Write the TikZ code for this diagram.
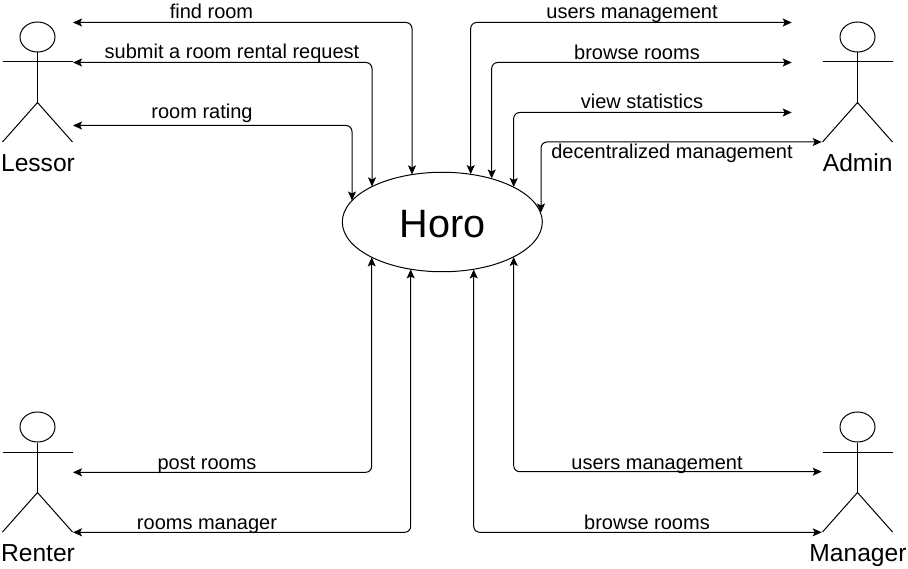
\documentclass[tikz,border=0pt]{standalone}
\usepackage{fontspec}
\setmainfont{Liberation Sans}
\usetikzlibrary{arrows.meta,shapes.geometric}
\tikzset{
  line/.style={line width=1pt,black},
  link/.style={line width=1pt,black,rounded corners=6pt,{Stealth[length=9pt,width=8pt,inset=2pt]}-{Stealth[length=9pt,width=8pt,inset=2pt]}},
  lbl/.style={anchor=base,inner sep=0pt,font=\fontsize{20}{22}\selectfont},
  actorlbl/.style={anchor=base,inner sep=0pt,font=\fontsize{24.6}{26}\selectfont},
  head/.style={ellipse,draw,line width=1pt,minimum width=35pt,minimum height=30pt,inner sep=0pt},
  usecase/.style={ellipse,draw,line width=1pt,minimum width=200pt,minimum height=99.5pt,inner sep=0pt}
}
\newcommand{\stickman}[3]{%
  \node[head] (#3) at (#1,#2+15) {};
  \draw[line] (#3.south) -- ++(0,50) coordinate (#3hip);
  \draw[line] (#1-35,#2+40) -- (#1+35,#2+40);
  \draw[line] (#1-35,#2+120) -- (#3hip) -- (#1+35,#2+120);
}
\begin{document}
\begin{tikzpicture}[x=1pt,y=-1pt]
\useasboundingbox (0,0) rectangle (908,569);
\fill[white] (0,0) rectangle (908,569);

\node[usecase] (horo) at (442.3,222) {};
\node[lbl,font=\fontsize{39.6}{44}\selectfont] (horolbl) at (442.5,238) {Horo};

\stickman{37.5}{22}{lessor}
\stickman{857.5}{22}{admin}
\stickman{37.5}{412}{renter}
\stickman{857.5}{412}{manager}

\node[actorlbl] (lessorlbl) at (38,171.7) {Lessor};
\node[actorlbl] (adminlbl) at (857.7,171.7) {Admin};
\node[actorlbl] (renterlbl) at (38,561.7) {Renter};
\node[actorlbl] (managerlbl) at (858,561.7) {Manager};

% free ends at the actors
\coordinate (a1) at (73,22.5);
\coordinate (a2) at (73,62.5);
\coordinate (a3) at (73,125.5);
\coordinate (b1) at (791.7,22.5);
\coordinate (b2) at (791.7,62.5);
\coordinate (b3) at (791.7,112.5);
\coordinate (b4) at (821.7,142);
\coordinate (c1) at (73,472.3);
\coordinate (c2) at (73,532.3);
\coordinate (d1) at (821.7,471.7);
\coordinate (d2) at (821.7,532.3);
% ends on the ellipse
\coordinate (h1) at (412,174.4);
\coordinate (h2) at (372,186.4);
\coordinate (h3) at (352,200.5);
\coordinate (h4) at (470.7,174.1);
\coordinate (h5) at (491.7,178.5);
\coordinate (h6) at (513.7,187);
\coordinate (h7) at (541,212.5);
\coordinate (h8) at (371.7,257.4);
\coordinate (h9) at (410.7,269.4);
\coordinate (h10) at (513.7,257);
\coordinate (h11) at (473.7,269.5);

\draw[link] (a1) -| (h1);
\draw[link] (a2) -| (h2);
\draw[link] (a3) -| (h3);
\draw[link] (b1) -| (h4);
\draw[link] (b2) -| (h5);
\draw[link] (b3) -| (h6);
\draw[link] (b4) -| (h7);
\draw[link] (c1) -| (h8);
\draw[link] (c2) -| (h9);
\draw[link] (d1) -| (h10);
\draw[link] (d2) -| (h11);

\node[lbl] (t1) at (211.5,18.5) {find room};
\node[lbl] (t2) at (232,59) {submit a room rental request};
\node[lbl] (t3) at (202,119) {room rating};
\node[lbl] (t4) at (632,19) {users management};
\node[lbl] (t5) at (637,59.6) {browse rooms};
\node[lbl] (t6) at (642,108.3) {view statistics};
\node[lbl] (t7) at (672,158.5) {decentralized management};
\node[lbl] (t8) at (207,469) {post rooms};
\node[lbl] (t9) at (207,529) {rooms manager};
\node[lbl] (t10) at (657,469) {users management};
\node[lbl] (t11) at (647,529) {browse rooms};
\end{tikzpicture}
\end{document}
